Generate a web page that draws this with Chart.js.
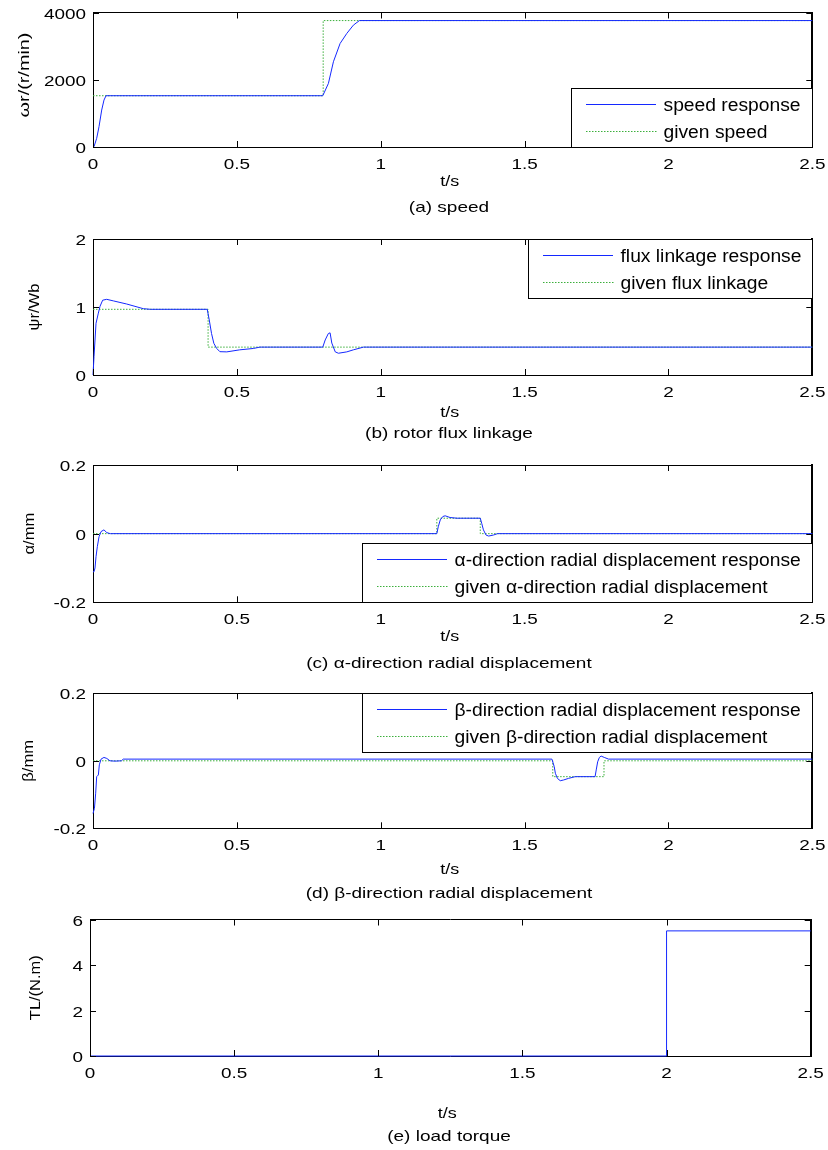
<!DOCTYPE html>
<html>
<head>
<meta charset="utf-8">
<script src="https://cdn.jsdelivr.net/npm/chart.js@4/dist/chart.umd.min.js"></script>
<style>
html,body{margin:0;padding:0;background:#fff;}
#wrap{position:relative;width:828px;height:1150px;overflow:hidden;background:#fff;}
#wrap canvas{position:absolute;left:0;}
.cap{position:absolute;left:0;width:898px;text-align:center;font-family:"Liberation Sans",Arial,sans-serif;font-size:14.5px;line-height:17px;color:#000;transform:scaleX(1.31);transform-origin:449px 50%;white-space:nowrap;}
</style>
</head>
<body>
<div id="wrap"></div>
<script>
// ---------------- data ----------------
const timeTicks = [0, 0.5, 1, 1.5, 2, 2.5];
const timeTickLabels = ['0', '0.5', '1', '1.5', '2', '2.5'];
const timeTitle = 't/s';

// (a) speed
const speedTime = [0, 0.0035, 0.0128, 0.0209, 0.0302, 0.0382, 0.0452, 0.7986, 0.8182, 0.8356, 0.8588, 0.882, 0.905, 0.926, 2.5];
const speedResponse = [0, 10, 257, 604, 1099, 1396, 1525, 1525, 1891, 2535, 3079, 3376, 3624, 3760, 3760];
const givenSpeedTime = [0, 0.8, 2.5];
const givenSpeed = [1525, 3760, 3760];
const speedTicks = [0, 2000, 4000];
const speedTickLabels = ['0', '2000', '4000'];

// (b) rotor flux linkage
const fluxTime = [0, 0.0035, 0.0105, 0.0186, 0.0244, 0.0336, 0.0476, 0.0707, 0.117, 0.175, 0.2, 0.397, 0.404, 0.412, 0.42, 0.43, 0.441, 0.465, 0.51, 0.557, 0.58, 0.7986, 0.807, 0.818, 0.824, 0.83, 0.842, 0.853, 0.882, 0.905, 0.94, 2.5];
const fluxResponse = [0, 0.27, 0.76, 0.91, 1.01, 1.10, 1.113, 1.09, 1.044, 0.975, 0.966, 0.966, 0.81, 0.61, 0.466, 0.39, 0.343, 0.34, 0.37, 0.39, 0.41, 0.41, 0.515, 0.61, 0.62, 0.47, 0.34, 0.32, 0.34, 0.37, 0.41, 0.41];
const givenFluxTime = [0, 0.4, 2.5];
const givenFlux = [0.966, 0.41, 0.41];
const fluxTicks = [0, 1, 2];
const fluxTickLabels = ['0', '1', '2'];

// (c) alpha-direction radial displacement
const alphaTime = [0, 0.0035, 0.007, 0.0105, 0.015, 0.021, 0.028, 0.038, 0.048, 0.06, 1.195, 1.2, 1.207, 1.216, 1.224, 1.241, 1.265, 1.346, 1.351, 1.357, 1.366, 1.375, 1.392, 1.406, 2.5];
const alphaResponse = [-0.111, -0.111, -0.10, -0.067, -0.038, -0.009, 0.006, 0.011, 0.003, 0, 0, 0.02, 0.04, 0.05, 0.052, 0.047, 0.045, 0.045, 0.03, 0.011, -0.004, -0.007, -0.004, 0, 0];
const givenAlphaTime = [0, 1.195, 1.346, 2.5];
const givenAlpha = [0, 0.045, 0, 0];
const dispTicks = [-0.2, 0, 0.2];
const dispTickLabels = ['-0.2', '0', '0.2'];

// (d) beta-direction radial displacement
const betaTime = [0, 0.005, 0.0093, 0.0128, 0.0186, 0.022, 0.028, 0.038, 0.048, 0.059, 0.076, 0.099, 0.105, 1.595, 1.603, 1.607, 1.614, 1.624, 1.635, 1.653, 1.676, 1.745, 1.749, 1.754, 1.76, 1.766, 1.777, 1.792, 2.5];
const betaResponse = [-0.156, -0.141, -0.096, -0.047, -0.042, -0.012, 0.005, 0.010, 0.007, 0, -0.001, 0, 0.005, 0.005, -0.017, -0.037, -0.052, -0.059, -0.057, -0.052, -0.047, -0.047, -0.027, -0.003, 0.010, 0.014, 0.010, 0.005, 0.005];
const givenBetaTime = [0, 1.598, 1.776, 2.5];
const givenBeta = [0, -0.047, 0, 0];

// (e) load torque
const torqueTime = [0, 2.0, 2.5];
const loadTorque = [0, 5.5, 5.5];
const torqueTicks = [0, 2, 4, 6];
const torqueTickLabels = ['0', '2', '4', '6'];

const yTitles = ['ωr/(r/min)', 'ψr/Wb', 'α/mm', 'β/mm', 'TL/(N.m)'];
const legendLabels = [
  ['speed response', 'given speed'],
  ['flux linkage response', 'given flux linkage'],
  ['α-direction radial displacement response', 'given α-direction radial displacement'],
  ['β-direction radial displacement response', 'given β-direction radial displacement'],
  []
];
const captions = ['(a) speed', '(b) rotor flux linkage', '(c) α-direction radial displacement', '(d) β-direction radial displacement', '(e) load torque'];

// ---------------- rendering ----------------
const FONT = '"Liberation Sans", Arial, sans-serif';
const BLUE = 'rgb(20,40,255)';
const GREEN = 'rgb(60,175,60)';

function pts(ts, vs) { return ts.map((t, i) => ({ x: t, y: vs[i] })); }

function sText(ctx, txt, x, y, size, sx, align, baseline, rot) {
  ctx.save();
  ctx.translate(x, y);
  if (rot) ctx.rotate(rot);
  ctx.scale(sx, 1);
  ctx.font = size + 'px ' + FONT;
  ctx.textAlign = align;
  ctx.textBaseline = baseline || 'alphabetic';
  ctx.fillStyle = '#000';
  ctx.fillText(txt, 0, 0);
  ctx.restore();
}

const matlabPlugin = {
  id: 'matlab',
  afterDraw(chart) {
    const o = chart.options.plugins.matlab;
    const { ctx, chartArea: a, scales } = chart;
    const TL = 6;
    ctx.save();
    ctx.strokeStyle = '#000';
    ctx.lineWidth = 1;
    ctx.setLineDash([]);
    ctx.beginPath();
    scales.x.ticks.forEach(t => {
      const px = Math.round(scales.x.getPixelForValue(t.value)) + 0.5;
      ctx.moveTo(px, a.bottom); ctx.lineTo(px, a.bottom - TL);
      ctx.moveTo(px, a.top); ctx.lineTo(px, a.top + TL);
    });
    scales.y.ticks.forEach(t => {
      const py = Math.round(scales.y.getPixelForValue(t.value)) + 0.5;
      ctx.moveTo(a.left, py); ctx.lineTo(a.left + TL, py);
      ctx.moveTo(a.right, py); ctx.lineTo(a.right - TL, py);
    });
    ctx.stroke();
    ctx.restore();

    // tick labels
    scales.x.ticks.forEach((t, i) => {
      sText(ctx, o.xLabels[i], scales.x.getPixelForValue(t.value), a.bottom + 22, 14, 1.35, 'center');
    });
    scales.y.ticks.forEach((t, i) => {
      sText(ctx, o.yLabels[i], a.left - 7, scales.y.getPixelForValue(t.value) + 6, 14, 1.35, 'right');
    });
    // axis titles
    sText(ctx, o.xTitle, (a.left + a.right) / 2 - 3, a.bottom + o.xTitleDy + 5.4, 15, 1.2, 'center');
    sText(ctx, o.yTitle, o.yTitleX, o.yTitleY != null ? o.yTitleY : (a.top + a.bottom) / 2, 15.5, o.yTitleSx, 'center', 'middle', -Math.PI / 2);

    // legend
    const items = chart.data.datasets.filter(d => d.label).sort((p, q) => p.legendIndex - q.legendIndex);
    if (o.legend && items.length) {
      const LFS = 18, LSX = 1.07;
      ctx.save();
      ctx.font = LFS + 'px ' + FONT;
      const maxW = Math.max(...items.map(d => ctx.measureText(d.label).width)) * LSX;
      ctx.restore();
      const w = 14 + 70 + 8 + maxW + 12, h = 59;
      const x1 = Math.round(a.right) + 0.5, x0 = Math.round(x1 - w) + 0.5;
      const y0 = o.legend === 'top' ? Math.round(a.top) + 0.5 : Math.round(a.bottom - h) + 0.5;
      ctx.save();
      ctx.fillStyle = '#fff';
      ctx.fillRect(x0, y0, x1 - x0, h);
      ctx.strokeStyle = '#000';
      ctx.lineWidth = 1;
      ctx.setLineDash([]);
      ctx.strokeRect(x0, y0, x1 - x0, h);
      items.forEach((d, i) => {
        const yy = Math.round(y0 + 15.5 + i * 26.7);
        const lx = Math.round(x0 + 14);
        ctx.fillStyle = d.borderColor;
        if (d.borderDash) {
          for (let xx = 0; xx < 70; xx += 3) ctx.fillRect(lx + xx, yy, 1.5, 1);
        } else {
          ctx.fillRect(lx, yy, 70, 1);
        }
        sText(ctx, d.label, x0 + 92, yy + 7, LFS, LSX, 'left');
      });
      ctx.restore();
    }
  }
};

const panels = [
  { top: 0, h: 200, pl: 93, pr: 812.3, pt: 12.5, pb: 147, yMin: 0, yMax: 4000, yTicks: speedTicks, yLabels: speedTickLabels,
    series: [[speedTime, speedResponse], [givenSpeedTime, givenSpeed]], legend: 'bottom', xTitleDy: 34, yTitleX: 24.5, yTitleY: 75, yTitleSx: 1.28, capY: 209.3 },
  { top: 220, h: 210, pl: 93, pr: 812.3, pt: 239, pb: 375, yMin: 0, yMax: 2, yTicks: fluxTicks, yLabels: fluxTickLabels,
    series: [[fluxTime, fluxResponse], [givenFluxTime, givenFlux]], legend: 'top', xTitleDy: 36.7, yTitleX: 35, yTitleSx: 1.07, capY: 435 },
  { top: 448, h: 207, pl: 93, pr: 812.3, pt: 465, pb: 602.3, yMin: -0.2, yMax: 0.2, yTicks: dispTicks, yLabels: dispTickLabels,
    series: [[alphaTime, alphaResponse], [givenAlphaTime, givenAlpha]], legend: 'bottom', xTitleDy: 33, yTitleX: 29.5, yTitleSx: 1.07, capY: 665 },
  { top: 675, h: 210, pl: 93, pr: 812.3, pt: 693.3, pb: 828.3, yMin: -0.2, yMax: 0.2, yTicks: dispTicks, yLabels: dispTickLabels,
    series: [[betaTime, betaResponse], [givenBetaTime, givenBeta]], legend: 'top', xTitleDy: 40, yTitleX: 29, yTitleSx: 1.07, capY: 895 },
  { top: 903, h: 222, pl: 90, pr: 810.7, pt: 919.5, pb: 1056, yMin: 0, yMax: 6, yTicks: torqueTicks, yLabels: torqueTickLabels,
    series: [[torqueTime, loadTorque]], legend: null, xTitleDy: 56.5, yTitleX: 35.7, yTitleSx: 1.06, capY: 1138, stepFirst: true }
];

const wrap = document.getElementById('wrap');

panels.forEach((p, k) => {
  const cv = document.createElement('canvas');
  cv.width = 828; cv.height = p.h;
  cv.style.top = p.top + 'px';
  cv.style.width = '828px'; cv.style.height = p.h + 'px';
  wrap.appendChild(cv);

  const datasets = p.series.map((s, i) => {
    const isGiven = i === 1;
    const ds = {
      label: legendLabels[k][i] || '',
      legendIndex: i,
      data: pts(s[0], s[1]),
      borderColor: isGiven ? GREEN : BLUE,
      borderWidth: 1,
      pointRadius: 0,
      pointHoverRadius: 0,
      fill: false,
      tension: 0,
      clip: 4,
      order: isGiven ? 1 : 0
    };
    if (isGiven || p.stepFirst) ds.stepped = 'before';
    if (isGiven) ds.borderDash = [1.5, 1.5];
    return ds;
  });

  const hideBox = { display: false };
  const xTickSetter = s => { s.ticks = timeTicks.map(v => ({ value: v })); };
  const yTickSetter = s => { s.ticks = p.yTicks.map(v => ({ value: v })); };

  new Chart(cv, {
    type: 'line',
    data: { datasets },
    options: {
      responsive: false,
      maintainAspectRatio: false,
      animation: false,
      devicePixelRatio: 1,
      events: [],
      layout: { padding: { left: p.pl, right: 828 - p.pr, top: p.pt - p.top, bottom: p.top + p.h - p.pb } },
      scales: {
        x: { type: 'linear', position: 'bottom', min: 0, max: 2.5, afterBuildTicks: xTickSetter,
             ticks: { display: false }, grid: { display: false, drawTicks: false }, title: hideBox,
             border: { display: true, color: '#000', width: 1 }, afterFit: s => { s.height = 0; } },
        xTop: { type: 'linear', position: 'top', min: 0, max: 2.5, afterBuildTicks: xTickSetter,
             ticks: { display: false }, grid: { display: false, drawTicks: false }, title: hideBox,
             border: { display: true, color: '#000', width: 1 }, afterFit: s => { s.height = 0; } },
        y: { type: 'linear', position: 'left', min: p.yMin, max: p.yMax, afterBuildTicks: yTickSetter,
             ticks: { display: false }, grid: { display: false, drawTicks: false }, title: hideBox,
             border: { display: true, color: '#000', width: 1 }, afterFit: s => { s.width = 0; } },
        yRight: { type: 'linear', position: 'right', min: p.yMin, max: p.yMax, afterBuildTicks: yTickSetter,
             ticks: { display: false }, grid: { display: false, drawTicks: false }, title: hideBox,
             border: { display: true, color: '#000', width: 2 }, afterFit: s => { s.width = 0; } }
      },
      plugins: {
        legend: { display: false },
        tooltip: { enabled: false },
        matlab: { xLabels: timeTickLabels, yLabels: p.yLabels, xTitle: timeTitle, xTitleDy: p.xTitleDy,
                  yTitle: yTitles[k], yTitleX: p.yTitleX, yTitleY: p.yTitleY, yTitleSx: p.yTitleSx, legend: p.legend }
      }
    },
    plugins: [matlabPlugin]
  });

  const cap = document.createElement('div');
  cap.className = 'cap';
  cap.style.top = (p.capY - 10) + 'px';
  cap.textContent = captions[k];
  wrap.appendChild(cap);
});
</script>
</body>
</html>
